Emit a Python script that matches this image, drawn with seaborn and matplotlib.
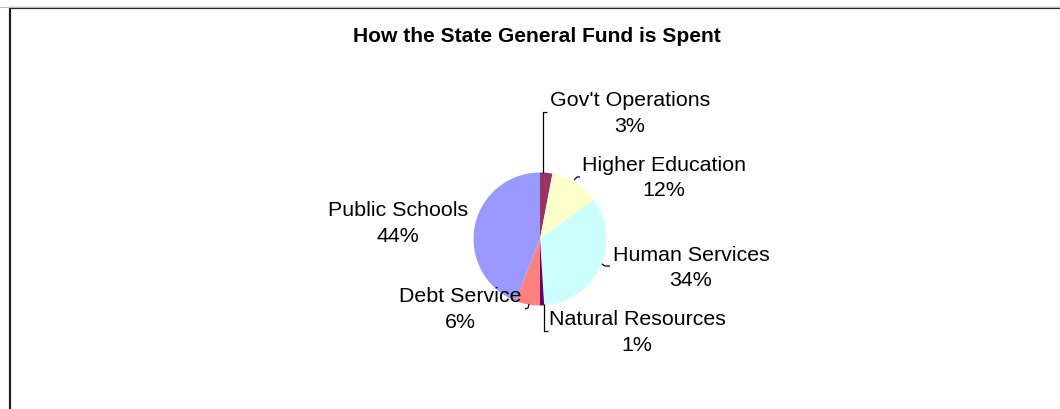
import matplotlib
matplotlib.use("Agg")
import matplotlib.pyplot as plt
from matplotlib.lines import Line2D
import seaborn as sns

# Share of the state general fund, by spending area (percent)
categories = ["Gov't Operations", "Higher Education", "Human Services",
              "Natural Resources", "Debt Service", "Public Schools"]
shares = [3, 12, 34, 1, 6, 44]
slice_colors = ["#993366", "#FFFFCC", "#CCFFFF", "#660066", "#FF8080", "#9999FF"]

# Label block centres in pixel space (y measured downward)
label_pos = [(630, 113.5), (664, 178), (691, 268), (637, 332.5), (460, 309.5), (398, 223.5)]
# Leader lines, pixel space (y downward); None where the label sits on the slice
leaders = [
    [(547, 113), (543, 113), (543, 174)],
    [(574, 181), (577, 178), (580, 178)],
    [(602, 265), (605, 267), (610, 267)],
    [(544, 305), (544, 332), (548, 332)],
    [(525, 310), (528, 309), (529, 305)],
    None,
]

W, H = 1060, 410
sns.set_theme(style="white")
plt.rcParams["font.family"] = ["Liberation Sans", "DejaVu Sans"]

fig = plt.figure(figsize=(W / 100, H / 100), dpi=100)
fig.patch.set_facecolor("white")
ax = fig.add_axes([0, 0, 1, 1])

cx, cy, r = 540, H - 240, 66.5
ax.pie(shares, colors=slice_colors, startangle=90, counterclock=False,
       center=(cx, cy), radius=r, wedgeprops=dict(linewidth=0),
       frame=True)
ax.set_xlim(0, W)
ax.set_ylim(0, H)
ax.set_aspect("equal")
ax.axis("off")

for name, val, (tx, ty), lead in zip(categories, shares, label_pos, leaders):
    ax.text(tx, H - ty, f"{name}\n{val}%", ha="center", va="center",
            fontsize=15.4, linespacing=1.45, color="black")
    if lead is not None:
        xs = [p[0] for p in lead]
        ys = [H - p[1] for p in lead]
        ax.plot(xs, ys, color="black", lw=0.9, solid_capstyle="butt")

ax.text(W / 2 + 7, H - 37, "How the State General Fund is Spent", ha="center",
        va="center", fontsize=15.1, fontweight="bold", color="black")

# Chart frame (left and top edges)
fig.add_artist(Line2D([10 / W, 10 / W], [0, 1 - 9 / H], transform=fig.transFigure,
                      color="#222222", lw=1.6))
fig.add_artist(Line2D([10 / W, 1], [1 - 9 / H, 1 - 9 / H], transform=fig.transFigure,
                      color="#222222", lw=1.6))
fig.add_artist(Line2D([0, 1], [1 - 7.5 / H, 1 - 7.5 / H], transform=fig.transFigure,
                      color="#bbbbbb", lw=0.8))

fig.savefig("out.png", dpi=100, facecolor="white")
